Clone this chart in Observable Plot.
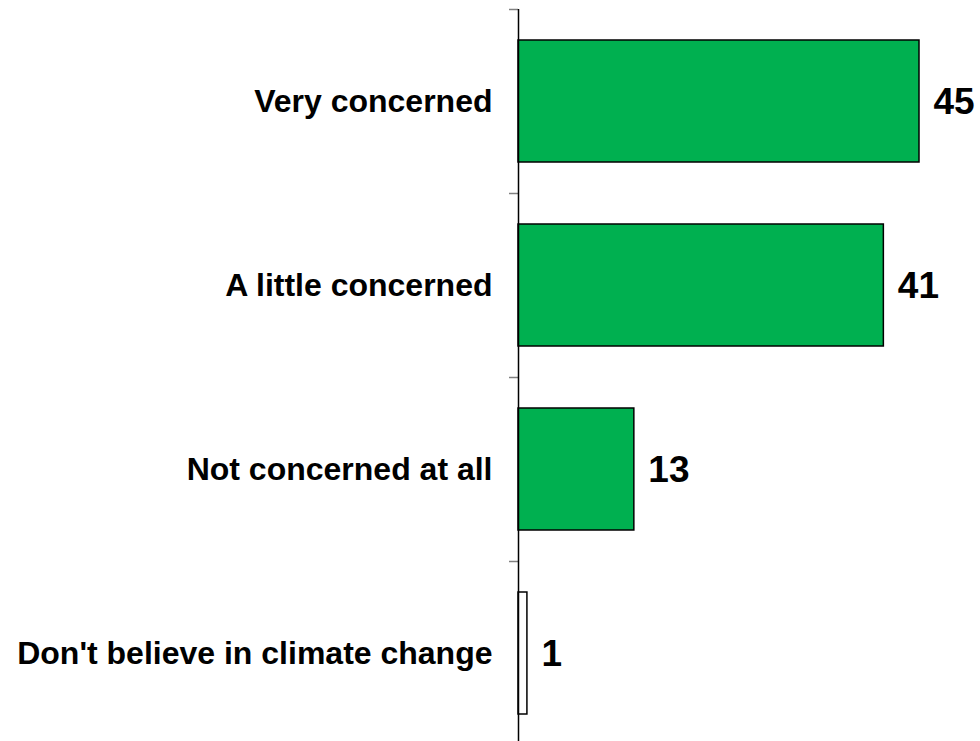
<!DOCTYPE html>
<html>
<head>
<meta charset="utf-8">
<script src="https://cdn.jsdelivr.net/npm/d3@7"></script>
<script src="https://cdn.jsdelivr.net/npm/@observablehq/plot@0.6"></script>
<style>
  html, body { margin: 0; padding: 0; background: #fff; }
  svg { display: block; }
</style>
</head>
<body>
<div id="chart"></div>
<script>
const categories = ["Very concerned", "A little concerned", "Not concerned at all", "Don't believe in climate change"];
const values = [45, 41, 13, 1];
const fills = ["#00B050", "#00B050", "#00B050", "#FFFFFF"];

const data = categories.map((c, i) => ({category: c, value: values[i], fill: fills[i]}));

const font = "Liberation Sans, Arial, sans-serif";

const chart = Plot.plot({
  width: 980,
  height: 741,
  marginLeft: 518,
  marginRight: 61,
  marginTop: 9,
  marginBottom: 0,
  style: {fontFamily: font, background: "#fff"},
  x: {domain: [0, 45], axis: null},
  y: {domain: categories, range: [9, 745], paddingInner: 0.337, paddingOuter: 0.1685, axis: null},
  marks: [
    Plot.barX(data, {x: "value", y: "category", fill: d => d.fill, stroke: "#000", strokeWidth: 1.5}),
    Plot.axisY({tickSize: 9, dy: -92, stroke: "#808080", strokeWidth: 1.5, tickFormat: null, text: null, label: null}),
    Plot.ruleX([0], {stroke: "#000", strokeWidth: 1.5}),
    Plot.text(data, {x: 0, y: "category", text: "category", textAnchor: "end", dx: -26, fontSize: 32, fontWeight: "bold", fill: "#000"}),
    Plot.text(data, {x: "value", y: "category", text: d => String(d.value), textAnchor: "start", dx: 14, dy: 1, fontSize: 37, fontWeight: "bold", fill: "#000"})
  ]
});
document.getElementById("chart").appendChild(chart);
</script>
</body>
</html>
